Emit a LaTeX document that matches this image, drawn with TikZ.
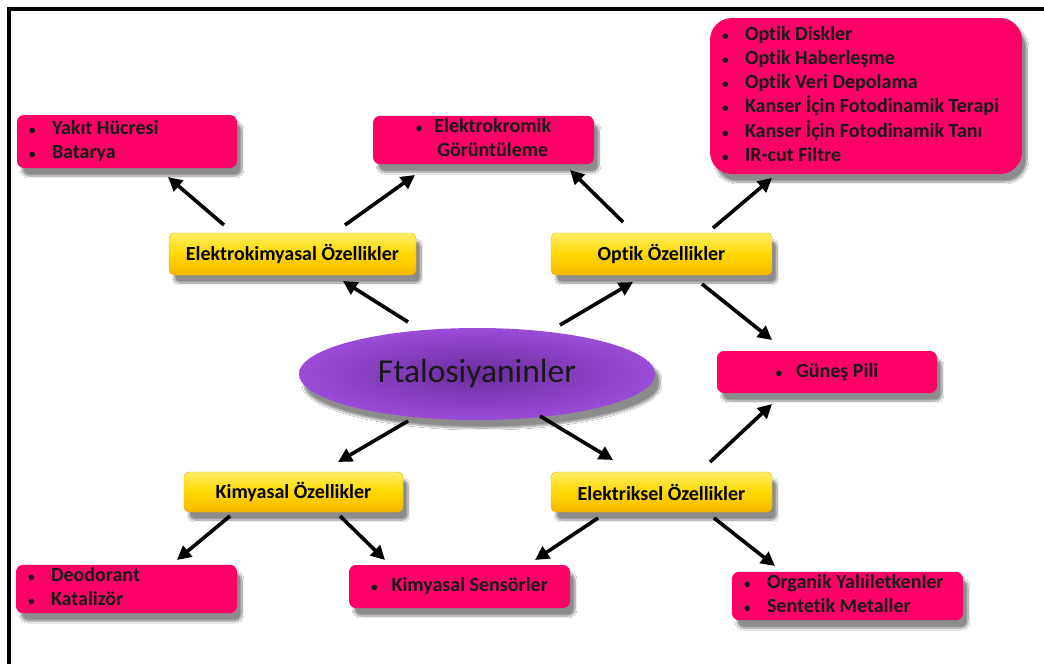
\documentclass[tikz,border=0pt]{standalone}
\usepackage{fontspec}
\setmainfont{Carlito}[Ligatures=NoCommon]
\usetikzlibrary{shapes.geometric,arrows.meta,shadows.blur}
\definecolor{pinkbox}{HTML}{FF0066}
\definecolor{ylwtop}{HTML}{FFEE66}
\definecolor{ylwmid}{HTML}{FFD800}
\definecolor{ylwbot}{HTML}{F5B800}
\definecolor{purpin}{HTML}{6C2C9C}
\definecolor{purout}{HTML}{9A4CD8}
\newcommand{\bul}{{\fontsize{13}{13}\selectfont •}}
\newcommand{\bitem}[1]{\makebox[23pt][l]{\bul}#1}
\newcommand{\bline}[2]{\makebox[#1][l]{\bitem{#2}}}
\tikzset{
  bshadow/.style={blur shadow={shadow xshift=5pt, shadow yshift=-8pt, shadow blur steps=10, shadow blur extra rounding=3pt, shadow opacity=45}},
  pinkbox/.style={rectangle, rounded corners=7pt, fill=pinkbox, bshadow, inner xsep=12pt, inner ysep=0pt,
    font=\fontsize{20}{24.2}\selectfont\bfseries, text=black!90},
  ylwbox/.style={rectangle, rounded corners=5pt, top color=ylwtop, bottom color=ylwbot, middle color=ylwmid, bshadow,
    draw=ylwbot!80!orange, line width=0.4pt, font=\fontsize{20}{22}\selectfont\bfseries, text=black},
  arr/.style={line width=3.6pt, -{Triangle[length=14pt,width=14pt]}},
}
\begin{document}
\begin{tikzpicture}[x=1pt,y=-1pt]
\useasboundingbox (0,0) rectangle (1044,664);
\fill[white] (0,0) rectangle (1044,664);
% frame
\coordinate (ftl) at (9,9);
\coordinate (ftr) at (1044,9);
\coordinate (fbl) at (9,664);
\draw[line width=4pt] (fbl) -- (ftl) -- (ftr);

% leaf boxes
\node[pinkbox, minimum width=220pt, minimum height=53pt] (yk) at (127,141.5)
  {\begin{tabular}{@{}l@{}}\bline{196pt}{Yakıt Hücresi}\\\bline{196pt}{Batarya}\end{tabular}};
\node[pinkbox, minimum width=221pt, minimum height=47pt] (ekr) at (483.5,140)
  {\begin{tabular}{@{}c@{\hspace{12pt}}c@{}}\bul&Elektrokromik\\&Görüntüleme\end{tabular}};
\node[pinkbox, rounded corners=22pt, minimum width=312pt, minimum height=156pt] (opb) at (866,96)
  {\begin{tabular}{@{}l@{}}\bline{288pt}{Optik Diskler}\\\bline{288pt}{Optik Haberleşme}\\\bline{288pt}{Optik Veri Depolama}\\\bline{288pt}{Kanser İçin Fotodinamik Terapi}\\\bline{288pt}{Kanser İçin Fotodinamik Tanı}\\\bline{288pt}{IR-cut Filtre}\end{tabular}};
\node[pinkbox, minimum width=220pt, minimum height=42pt] (gp) at (827,372)
  {\bul\hspace{14pt}Güneş Pili};
\node[pinkbox, minimum width=221pt, minimum height=47pt] (de) at (126.5,589)
  {\begin{tabular}{@{}l@{}}\bline{197pt}{Deodorant}\\\bline{197pt}{Katalizör}\end{tabular}};
\node[pinkbox, minimum width=221pt, minimum height=43pt] (ks) at (459.5,586.5)
  {\bul\hspace{14pt}Kimyasal Sensörler};
\node[pinkbox, minimum width=231pt, minimum height=48pt] (org) at (847.5,596)
  {\begin{tabular}{@{}l@{}}\bline{207pt}{Organik Yalıiletkenler}\\\bline{207pt}{Sentetik Metaller}\end{tabular}};

% property boxes
\node[ylwbox, minimum width=247pt, minimum height=42pt] (ek) at (292.5,254) {Elektrokimyasal Özellikler};
\node[ylwbox, minimum width=221pt, minimum height=42pt] (op) at (661.5,254) {Optik Özellikler};
\node[ylwbox, minimum width=219pt, minimum height=40pt] (km) at (293.5,492) {Kimyasal Özellikler};
\node[ylwbox, minimum width=221pt, minimum height=40pt] (el) at (661.5,492) {Elektriksel Özellikler};

% center
\node[ellipse, minimum width=356pt, minimum height=92pt, inner color=purpin, outer color=purout, bshadow,
  font=\fontsize{33.5}{36}\selectfont, text=black!90] (ft) at (477,374) {Ftalosiyaninler};

% arrow end points
\coordinate (a1s) at (224,225); \coordinate (a1e) at (168,177);
\coordinate (a2s) at (345,225); \coordinate (a2e) at (415,175);
\coordinate (a3s) at (623,222); \coordinate (a3e) at (570,170);
\coordinate (a4s) at (713,228); \coordinate (a4e) at (772,178);
\coordinate (a5s) at (408,322); \coordinate (a5e) at (343,281);
\coordinate (a6s) at (560,325); \coordinate (a6e) at (633,282);
\coordinate (a7s) at (702,284); \coordinate (a7e) at (772,340);
\coordinate (a8s) at (408,421); \coordinate (a8e) at (338,462);
\coordinate (a9s) at (540,416); \coordinate (a9e) at (613,460);
\coordinate (a10s) at (710,462); \coordinate (a10e) at (772,404);
\coordinate (a11s) at (230,516); \coordinate (a11e) at (177,560);
\coordinate (a12s) at (340,516); \coordinate (a12e) at (385,560);
\coordinate (a13s) at (598,518); \coordinate (a13e) at (535,560);
\coordinate (a14s) at (714,518); \coordinate (a14e) at (775,566);

\foreach \i in {1,...,14} \draw[arr] (a\i s) -- (a\i e);
\end{tikzpicture}
\end{document}
